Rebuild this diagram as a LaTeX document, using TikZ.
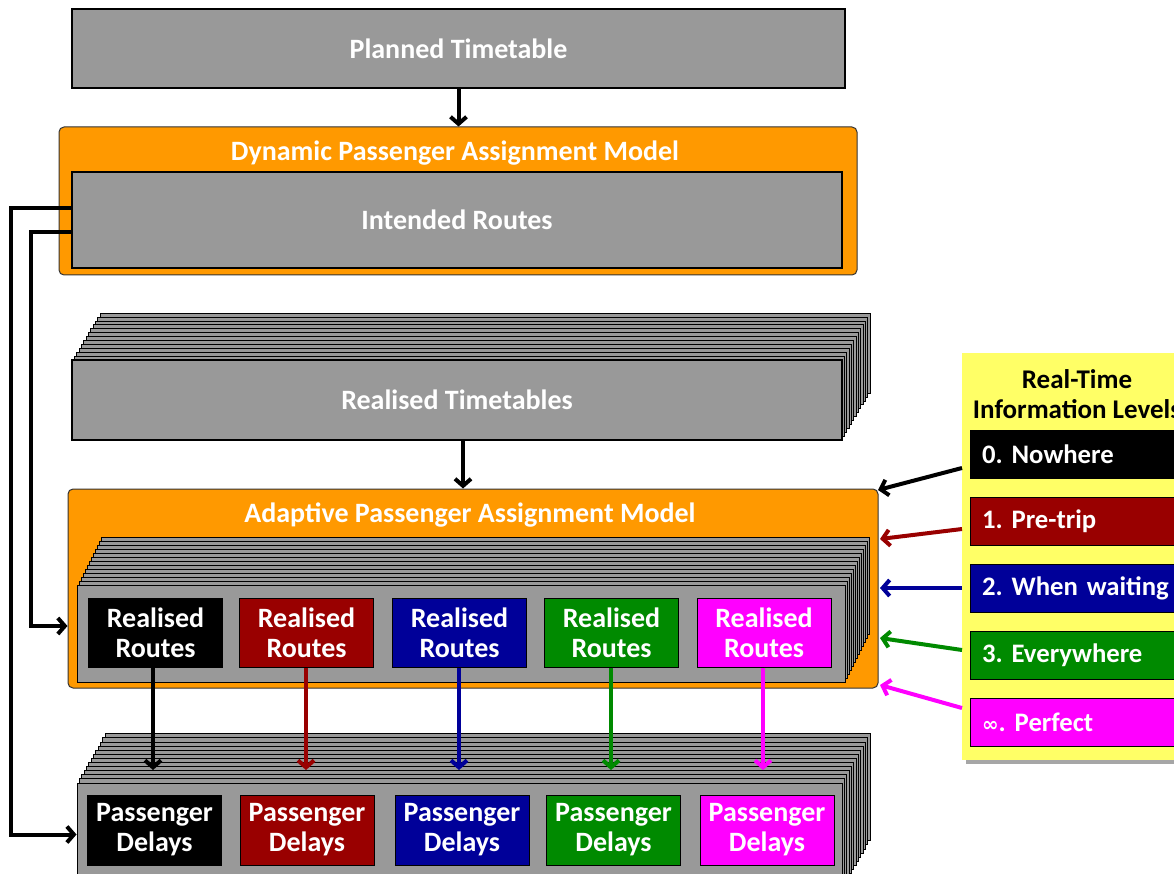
\documentclass[tikz,border=0pt]{standalone}
\usepackage{fontspec}
\setmainfont{Carlito}
\usetikzlibrary{arrows.meta}
\definecolor{gr}{HTML}{999999}
\definecolor{org}{HTML}{FF9900}
\definecolor{dred}{HTML}{990000}
\definecolor{dblue}{HTML}{000099}
\definecolor{dgreen}{HTML}{008A00}
\definecolor{mag}{HTML}{FF00FF}
\definecolor{yel}{HTML}{FFFF66}
\frenchspacing
\begin{document}
\begin{tikzpicture}[x=1pt,y=-1pt,
  graybox/.style={draw=black, line width=1.2pt, fill=gr, inner sep=0pt, text=white,
    font=\bfseries\fontsize{28}{30}\selectfont},
  orgbox/.style={draw=black!80, line width=1pt, fill=org, rounded corners=5pt, inner sep=0pt},
  ttl/.style={text=white, font=\bfseries\fontsize{28}{30}\selectfont, inner sep=0pt},
  cbox/.style={draw=black, line width=1pt, fill=#1, inner sep=0pt, text=white,
    minimum width=134pt, align=center, font=\bfseries\fontsize{28}{30}\selectfont},
  layer/.style={draw=black, line width=0.9pt, fill=gr},
  item/.style={draw=black, line width=1pt, fill=#1, text=white, inner xsep=12pt, inner ysep=0pt,
    text width=206pt, minimum height=48pt, align=left, font=\bfseries\fontsize{26.7}{30}\selectfont},
  arr/.style={line width=4pt, draw=#1, -{Straight Barb[length=7pt,width=16pt]}},
  arr/.default=black,
  conn/.style={line width=4pt, -{Straight Barb[length=7pt,width=16pt]}},
]
\useasboundingbox (0,0) rectangle (1174,874);
\clip (0,0) rectangle (1174,874);
\fill[white] (0,0) rectangle (1174,874);

% Planned timetable
\node[graybox, minimum width=773pt, minimum height=79pt] (planned) at (458.5,48.5) {Planned Timetable};

% Dynamic model
\node[orgbox, minimum width=798pt, minimum height=148pt] (dyn) at (458,201) {};
\node[ttl] (dyntitle) at (455,153) {Dynamic Passenger Assignment Model};
\node[graybox, minimum width=770pt, minimum height=96pt] (intended) at (457,220) {Intended Routes};

\draw[arr] (planned.south) -- (planned.south |- dyn.north);

% Realised timetables stack
\foreach \i in {12,...,1}
  \draw[layer] (72+\i*2.33,360-\i*3.9) rectangle (842+\i*2.33,440-\i*3.9);
\node[graybox, minimum width=770pt, minimum height=80pt] (realtt) at (457,400) {Realised Timetables};

% Adaptive model
\node[orgbox, minimum width=810pt, minimum height=199pt] (adapt) at (473,588.5) {};
\node[ttl] (adtitle) at (470,515) {Adaptive Passenger Assignment Model};
\draw[arr] ([xshift=6pt]realtt.south) -- ([xshift=6pt]realtt.south |- adapt.north);

\foreach \i in {12,...,1}
  \draw[layer] (77+\i*2.0,585-\i*4.0) rectangle (845+\i*2.0,682-\i*4.0);
\node[layer, inner sep=0pt, minimum width=768pt, minimum height=97pt] (rstack) at (461,633.5) {};

\node[cbox=black, minimum height=69pt] (r0) at (155.5,632.5) {Realised\\Routes};
\node[cbox=dred, minimum height=69pt] (r1) at (306.5,632.5) {Realised\\Routes};
\node[cbox=dblue, minimum height=69pt] (r2) at (459.5,632.5) {Realised\\Routes};
\node[cbox=dgreen, minimum height=69pt] (r3) at (611.5,632.5) {Realised\\Routes};
\node[cbox=mag, minimum height=69pt] (r4) at (764,632.5) {Realised\\Routes};

% Passenger delays stack
\foreach \i in {12,...,1}
  \draw[layer] (77+\i*2.33,783-\i*4.1) rectangle (842+\i*2.33,890-\i*4.1);
\node[layer, inner sep=0pt, minimum width=765pt, minimum height=107pt] (pstack) at (459.5,836.5) {};

\node[cbox=black, minimum height=70pt] (p0) at (154.5,830) {Passenger\\Delays};
\node[cbox=dred, minimum height=70pt] (p1) at (307,830) {Passenger\\Delays};
\node[cbox=dblue, minimum height=70pt] (p2) at (462,830) {Passenger\\Delays};
\node[cbox=dgreen, minimum height=70pt] (p3) at (613.5,830) {Passenger\\Delays};
\node[cbox=mag, minimum height=70pt] (p4) at (767,830) {Passenger\\Delays};

% route -> delay arrows
\coordinate (t0) at (153,770);
\coordinate (t1) at (306,770);
\coordinate (t2) at (459,770);
\coordinate (t3) at (611,770);
\coordinate (t4) at (763,770);
\draw[arr=black] (r0.south -| t0) -- (t0);
\draw[arr=dred] (r1.south -| t1) -- (t1);
\draw[arr=dblue] (r2.south -| t2) -- (t2);
\draw[arr=dgreen] (r3.south -| t3) -- (t3);
\draw[arr=mag] (r4.south -| t4) -- (t4);

% left connectors
\draw[conn] ([yshift=12pt]intended.west) -- ++(-60,0) |- ([yshift=2pt]pstack.west);
\draw[conn] ([yshift=-12pt]intended.west) -- ++(-40,0) |- ([yshift=-37.5pt]adapt.west);

% Legend
\fill[black!35] (966,358) rectangle (1200,764);
\node[fill=yel, inner sep=0pt, minimum width=238pt, minimum height=407pt] (legend) at (1081,556.5) {};
\node[align=center, inner sep=0pt, font=\bfseries\fontsize{27}{30}\selectfont] (legtitle) at (1077,394) {Real-Time\\Information Levels};
\node[item=black] (l0) at (1085,454) {0. Nowhere};
\node[item=dred] (l1) at (1085,521.5) {1. Pre-trip};
\node[item=dblue] (l2) at (1085,588) {2. When waiting};
\node[item=dgreen] (l3) at (1085,655.5) {3. Everywhere};
\node[item=mag] (l4) at (1085,722) {\fontspec{DejaVu Sans}\bfseries\fontsize{20}{24}\selectfont ∞\fontspec{Carlito}\bfseries\fontsize{26.7}{30}\selectfont. Perfect};

\coordinate (s0) at (962,468); \coordinate (e0) at (878,490);
\coordinate (s1) at (962,529); \coordinate (e1) at (880,539);
\coordinate (s2) at (962,588); \coordinate (e2) at (880,588);
\coordinate (s3) at (962,650); \coordinate (e3) at (880,638);
\coordinate (s4) at (962,708); \coordinate (e4) at (880,685);
\draw[arr=black] (s0) -- (e0);
\draw[arr=dred] (s1) -- (e1);
\draw[arr=dblue] (s2) -- (e2);
\draw[arr=dgreen] (s3) -- (e3);
\draw[arr=mag] (s4) -- (e4);
\end{tikzpicture}
\end{document}
